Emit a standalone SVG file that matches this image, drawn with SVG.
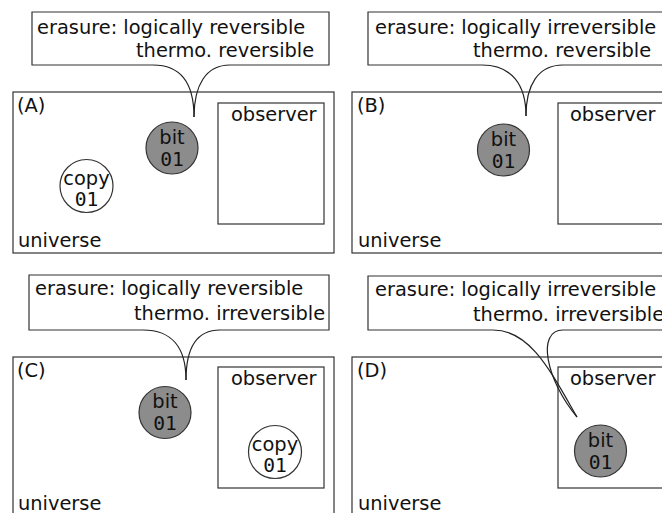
<svg xmlns="http://www.w3.org/2000/svg" width="662" height="513" viewBox="0 0 662 513">
<style>
text{font-family:"DejaVu Sans","Liberation Sans",sans-serif;font-size:19.4px;fill:#111}
.m{font-family:"DejaVu Sans Mono","Liberation Mono",monospace;font-size:19.6px}
.c{text-anchor:middle}
.box{fill:#fff;stroke:#333;stroke-width:1.2}
.call{fill:#fff;stroke:#333;stroke-width:1.2}
.bit{fill:#8c8c8c;stroke:#333;stroke-width:1.2}
.copy{fill:#fff;stroke:#333;stroke-width:1.2}
.tail{fill:none;stroke:#222;stroke-width:1.2}
</style>
<rect width="662" height="513" fill="#fff"/>

<!-- Panel A -->
<g id="universeA"><rect class="box" x="13" y="92" width="321" height="161"/><text x="17" y="112">(A)</text><text x="18" y="247">universe</text></g>
<g id="observerA"><rect class="box" x="218" y="103" width="106" height="121"/><text x="231" y="121">observer</text></g>
<g id="bitA"><circle class="bit" cx="172" cy="148" r="26"/><text class="c" x="172" y="144">bit</text><text class="c m" x="172" y="166">01</text></g>
<g id="copyA"><circle class="copy" cx="86.5" cy="186" r="26.5"/><text class="c" x="86.5" y="185">copy</text><text class="c m" x="86.5" y="206">01</text></g>
<g id="calloutA"><path class="call" d="M153,65 L32,65 L32,12 L329,12 L329,65 L230,65"/><text x="37" y="34">erasure: logically reversible</text><text x="136" y="57">thermo. reversible</text></g>

<!-- Panel B -->
<g id="universeB"><rect class="box" x="352" y="92" width="320" height="161"/><text x="357" y="112">(B)</text><text x="358" y="247">universe</text></g>
<g id="observerB"><rect class="box" x="558" y="103" width="120" height="121"/><text x="570" y="121">observer</text></g>
<g id="bitB"><circle class="bit" cx="503.5" cy="150" r="26"/><text class="c" x="503.5" y="146">bit</text><text class="c m" x="503.5" y="168">01</text></g>
<g id="calloutB"><path class="call" d="M482,65 L368,65 L368,12 L672,12 M672,65 L563,65"/><text x="375" y="34">erasure: logically irreversible</text><text x="473" y="57">thermo. reversible</text></g>

<!-- Panel C -->
<g id="universeC"><rect class="box" x="13" y="357" width="321" height="170"/><text x="17" y="377">(C)</text><text x="18" y="510">universe</text></g>
<g id="observerC"><rect class="box" x="218" y="367" width="106" height="121"/><text x="231" y="385">observer</text></g>
<g id="bitC"><circle class="bit" cx="165" cy="412.5" r="26"/><text class="c" x="165" y="408">bit</text><text class="c m" x="165" y="430">01</text></g>
<g id="copyC"><circle class="copy" cx="275" cy="452" r="26.5"/><text class="c" x="275" y="451">copy</text><text class="c m" x="275" y="472">01</text></g>
<g id="calloutC"><path class="call" d="M143,330 L29,330 L29,275 L329,275 L329,330 L220,330"/><text x="35" y="295">erasure: logically reversible</text><text x="134" y="320">thermo. irreversible</text></g>

<!-- Panel D -->
<g id="universeD"><rect class="box" x="352" y="357" width="320" height="170"/><text x="357" y="377">(D)</text><text x="358" y="510">universe</text></g>
<g id="observerD"><rect class="box" x="558" y="367" width="120" height="121"/><text x="570" y="385">observer</text></g>
<g id="bitD"><circle class="bit" cx="600.5" cy="451" r="26"/><text class="c" x="600.5" y="447">bit</text><text class="c m" x="600.5" y="469">01</text></g>
<g id="calloutD"><path class="call" d="M493,330 L368,330 L368,276 L672,276 M672,330 L563,330"/><text x="375" y="296">erasure: logically irreversible</text><text x="473" y="321">thermo. irreversible</text></g>

<!-- Connectors: callout tails -->
<g id="connectors">
<path class="tail" d="M153,65 C182,65 194,85 194,117"/>
<path class="tail" d="M230,65 C206,65 194,85 194,117"/>
<path class="tail" d="M482,65 C512,65 526,85 526,116"/>
<path class="tail" d="M563,65 C538,65 526,85 526,116"/>
<path class="tail" d="M143,330 C172,330 186,348 186,380"/>
<path class="tail" d="M220,330 C196,330 186,348 186,380"/>
<path class="tail" d="M493,330 C530,330 550,370 577,417"/>
<path class="tail" d="M563,330 C536,330 546,380 577,417"/>
</g>
</svg>
